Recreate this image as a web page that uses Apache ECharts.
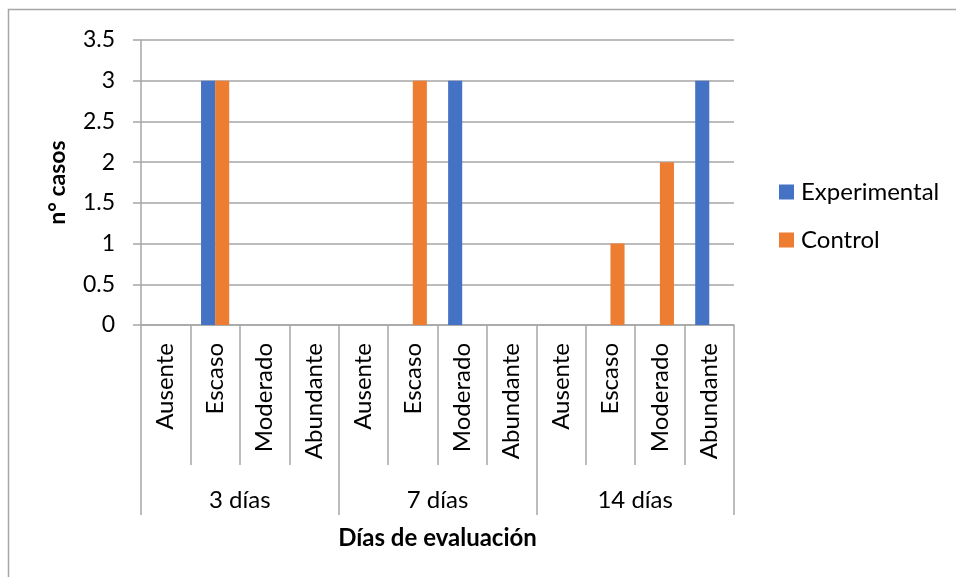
<!DOCTYPE html>
<html>
<head>
<meta charset="utf-8">
<script src="https://cdn.jsdelivr.net/npm/echarts@6/dist/echarts.min.js"></script>
<style>
  html, body { margin: 0; padding: 0; background: #fff; }
  #chart { width: 956px; height: 577px; }
</style>
</head>
<body>
<div id="chart"></div>
<script>
// Abundance levels repeated for each evaluation day
const levels = ['Ausente', 'Escaso', 'Moderado', 'Abundante'];
const groups = ['3 días', '7 días', '14 días'];
const categories = groups.flatMap(() => levels);

// Number of cases per level and day
const experimental = [0, 3, 0, 0, 0, 0, 3, 0, 0, 0, 0, 3];
const control      = [0, 3, 0, 0, 0, 3, 0, 0, 0, 1, 2, 0];

const FONT = 'Lato';
const GRAY = '#a6a6a6';
const FS = 24;

const chart = echarts.init(document.getElementById('chart'), null, { renderer: 'canvas' });

chart.setOption({
  animation: false,
  backgroundColor: '#fff',
  textStyle: { fontFamily: FONT, color: '#000' },
  graphic: [{
    type: 'rect',
    shape: { x: 8.5, y: 9.5, width: 2000, height: 2000 },
    style: { fill: 'none', stroke: GRAY, lineWidth: 1.5 },
    silent: true
  }],
  legend: {
    orient: 'vertical',
    left: 779,
    top: 180,
    padding: 0,
    itemWidth: 15,
    itemHeight: 15,
    itemGap: 24,
    icon: 'rect',
    textStyle: { fontFamily: FONT, fontSize: FS, color: '#000', padding: [0, 0, 0, 2] },
    data: ['Experimental', 'Control']
  },
  grid: { left: 141, right: 222, top: 40, bottom: 252, containLabel: false },
  xAxis: [
    {
      type: 'category',
      data: categories,
      position: 'bottom',
      boundaryGap: true,
      axisLine: { show: true, lineStyle: { color: GRAY, width: 1.5 } },
      axisTick: { show: true, interval: 0, length: 140, lineStyle: { color: GRAY, width: 1.5 } },
      axisLabel: { interval: 0, rotate: 90, margin: 18, fontFamily: FONT, fontSize: FS, color: '#000' },
      splitLine: { show: false }
    },
    {
      type: 'category',
      data: groups,
      position: 'bottom',
      offset: 140,
      boundaryGap: true,
      axisLine: { show: false },
      axisTick: { show: true, interval: 0, length: 50, lineStyle: { color: GRAY, width: 1.5 } },
      axisLabel: { interval: 0, margin: 23, fontFamily: FONT, fontSize: FS, color: '#000' },
      splitLine: { show: false },
      name: 'Días de evaluación',
      nameLocation: 'middle',
      nameGap: 61,
      nameTextStyle: { fontFamily: FONT, fontSize: FS, fontWeight: 'bold', color: '#000' }
    }
  ],
  yAxis: {
    type: 'value',
    min: 0,
    max: 3.5,
    interval: 0.5,
    axisLine: { show: true, lineStyle: { color: GRAY, width: 1.5 } },
    axisTick: { show: true, length: 8, lineStyle: { color: GRAY, width: 1.5 } },
    splitLine: { show: true, lineStyle: { color: GRAY, width: 1.5 } },
    axisLabel: { margin: 26, fontFamily: FONT, fontSize: 23, color: '#000' },
    name: 'n° casos',
    nameLocation: 'middle',
    nameRotate: 90,
    nameGap: 72,
    nameTextStyle: { fontFamily: FONT, fontSize: 23, fontWeight: 'bold', color: '#000' }
  },
  series: [
    {
      name: 'Experimental',
      type: 'bar',
      xAxisIndex: 0,
      data: experimental,
      barGap: '0%',
      barCategoryGap: '43%',
      itemStyle: { color: '#4472C4' }
    },
    {
      name: 'Control',
      type: 'bar',
      xAxisIndex: 0,
      data: control,
      barGap: '0%',
      barCategoryGap: '43%',
      itemStyle: { color: '#ED7D31' }
    }
  ]
});
</script>
</body>
</html>
